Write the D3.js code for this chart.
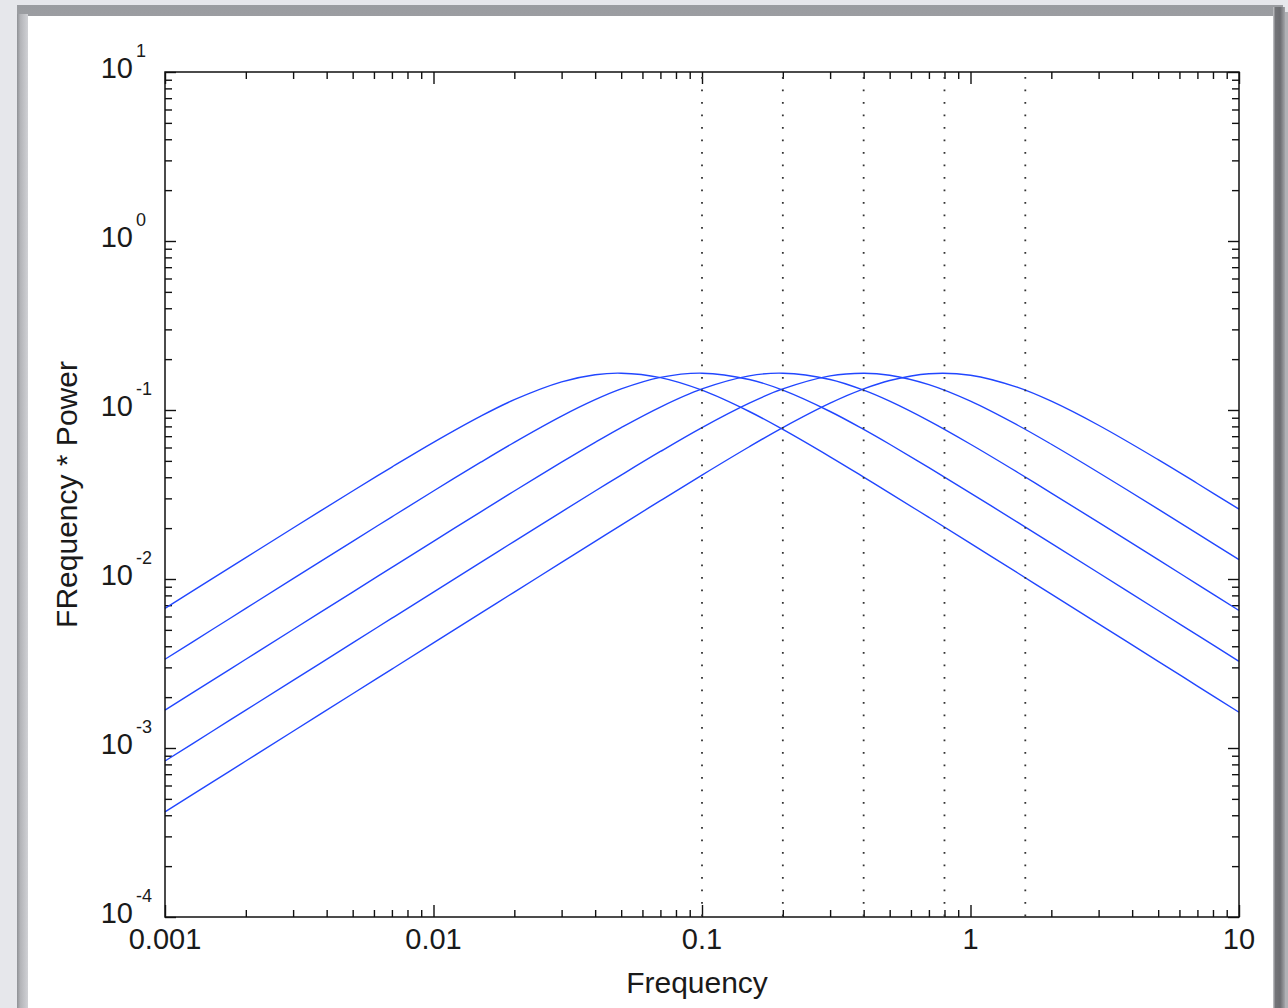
<!DOCTYPE html>
<html>
<head>
<meta charset="utf-8">
<script src="https://cdn.jsdelivr.net/npm/d3@7"></script>
<style>
  html, body { margin: 0; padding: 0; background: #e6e7eb; }
  svg { display: block; }
  text { font-family: "Liberation Sans", Arial, Helvetica, sans-serif; fill: #1a1a1a; }
</style>
</head>
<body>
<svg id="chart" width="1288" height="1008"></svg>
<script>
// ---- data ----
const frequencies = [0.001, 0.0015, 0.002, 0.003, 0.005, 0.007, 0.01, 0.015, 0.02, 0.03, 0.04, 0.05, 0.07,
  0.1, 0.15, 0.2, 0.3, 0.4, 0.5, 0.7, 1, 1.5, 2, 3, 5, 7, 10];
const band1 = [0.00670, 0.01004, 0.01338, 0.02003, 0.03316, 0.04597, 0.06435, 0.09198, 0.11506, 0.14668, 0.16160, 0.16514, 0.15550,
  0.13100, 0.09798, 0.07676, 0.05286, 0.04010, 0.03225, 0.02315, 0.01624, 0.01085, 0.008137, 0.005427, 0.003257, 0.002326, 0.001628];
const band2 = [0.003350, 0.005024, 0.006697, 0.01004, 0.01671, 0.02333, 0.03316, 0.04911, 0.06435, 0.09198, 0.11506, 0.13324, 0.15592,
  0.16514, 0.15162, 0.13100, 0.09798, 0.07676, 0.06270, 0.04562, 0.03225, 0.02162, 0.01624, 0.01085, 0.006511, 0.004652, 0.003257];
const band3 = [0.001675, 0.002512, 0.003350, 0.005024, 0.008370, 0.01171, 0.01671, 0.02498, 0.03316, 0.04911, 0.06435, 0.07869, 0.10413,
  0.13324, 0.15917, 0.16514, 0.15162, 0.13100, 0.11274, 0.08621, 0.06270, 0.04269, 0.03225, 0.02162, 0.01301, 0.009298, 0.006511];
const band4 = [0.0008375, 0.001256, 0.001675, 0.002512, 0.004187, 0.005861, 0.008370, 0.01254, 0.01671, 0.02498, 0.03316, 0.04121, 0.05683,
  0.07869, 0.10975, 0.13324, 0.15917, 0.16514, 0.16061, 0.14126, 0.11274, 0.08123, 0.06270, 0.04269, 0.02589, 0.01855, 0.01301];
const band5 = [0.0004188, 0.0006281, 0.0008375, 0.001256, 0.002094, 0.002931, 0.004187, 0.006279, 0.008370, 0.01254, 0.01671, 0.02085, 0.02908,
  0.04121, 0.06062, 0.07869, 0.10975, 0.13324, 0.14936, 0.16398, 0.16061, 0.13607, 0.11274, 0.08123, 0.05085, 0.03675, 0.02589];
const bandEdges = [0.1, 0.2, 0.4, 0.8, 1.6];
const xTickValues = [0.001, 0.01, 0.1, 1, 10];
const xTickLabels = ["0.001", "0.01", "0.1", "1", "10"];
const yTickValues = [1e-4, 1e-3, 1e-2, 1e-1, 1, 10];
const yTickExponents = ["-4", "-3", "-2", "-1", "0", "1"];
const xTitle = "Frequency";
const yTitle = "FRequency * Power";

const seriesList = [band1, band2, band3, band4, band5];

// ---- drawing ----
const svg = d3.select("#chart");

// window frame
const defs = svg.append("defs");
const gRight = defs.append("linearGradient").attr("id", "rightEdge").attr("x1", 0).attr("x2", 1).attr("y1", 0).attr("y2", 0);
gRight.append("stop").attr("offset", 0).attr("stop-color", "#c9cacd");
gRight.append("stop").attr("offset", 0.2).attr("stop-color", "#737478");
gRight.append("stop").attr("offset", 0.6).attr("stop-color", "#6c6d71");
gRight.append("stop").attr("offset", 1).attr("stop-color", "#a3a4a8");
const gTop = defs.append("linearGradient").attr("id", "topEdge").attr("x1", 0).attr("x2", 0).attr("y1", 0).attr("y2", 1);
gTop.append("stop").attr("offset", 0).attr("stop-color", "#9a9ca0");
gTop.append("stop").attr("offset", 0.25).attr("stop-color", "#b9babe");
gTop.append("stop").attr("offset", 1).attr("stop-color", "#d3d4d8");
const gLeft = defs.append("linearGradient").attr("id", "leftEdge").attr("x1", 0).attr("x2", 1).attr("y1", 0).attr("y2", 0);
gLeft.append("stop").attr("offset", 0).attr("stop-color", "#8f9195");
gLeft.append("stop").attr("offset", 0.3).attr("stop-color", "#b3b4b8");
gLeft.append("stop").attr("offset", 1).attr("stop-color", "#d0d1d5");

svg.append("rect").attr("x", 0).attr("y", 0).attr("width", 1288).attr("height", 1008).attr("fill", "#e6e7eb");
svg.append("rect").attr("x", 1283).attr("y", 12).attr("width", 5).attr("height", 996).attr("fill", "#b0b1b5");
svg.append("rect").attr("x", 17).attr("y", 5).attr("width", 1266).attr("height", 1003).attr("fill", "url(#topEdge)");
svg.append("rect").attr("x", 17).attr("y", 14).attr("width", 11).attr("height", 994).attr("fill", "url(#leftEdge)");
svg.append("rect").attr("x", 1273).attr("y", 7).attr("width", 12).attr("height", 1001).attr("fill", "url(#rightEdge)");
svg.append("rect").attr("x", 28).attr("y", 16).attr("width", 1245).attr("height", 992).attr("fill", "#ffffff");

// scales
const plotL = 165, plotR = 1239, plotT = 72, plotB = 917;
const x = d3.scaleLog().domain([0.001, 10]).range([plotL, plotR]);
const y = d3.scaleLog().domain([1e-4, 10]).range([plotB, plotT]);

const minorX = x.ticks().filter(t => !xTickValues.some(m => Math.abs(Math.log10(m) - Math.log10(t)) < 1e-6));
const minorY = y.ticks().filter(t => !yTickValues.some(m => Math.abs(Math.log10(m) - Math.log10(t)) < 1e-6));

function axisGroup(axis, tx, ty) {
  const g = svg.append("g").attr("transform", `translate(${tx},${ty})`).call(axis);
  g.select(".domain").remove();
  g.selectAll("line").attr("stroke", "#111").attr("stroke-width", 1.4);
  g.selectAll("text").remove();
  return g;
}
// inward ticks on all four sides
axisGroup(d3.axisBottom(x).tickValues(xTickValues).tickSize(-12).tickFormat(""), 0, plotB);
axisGroup(d3.axisBottom(x).tickValues(minorX).tickSize(-7).tickFormat(""), 0, plotB);
axisGroup(d3.axisTop(x).tickValues(xTickValues).tickSize(-12).tickFormat(""), 0, plotT);
axisGroup(d3.axisTop(x).tickValues(minorX).tickSize(-7).tickFormat(""), 0, plotT);
axisGroup(d3.axisLeft(y).tickValues(yTickValues).tickSize(-11).tickFormat(""), plotL, 0);
axisGroup(d3.axisLeft(y).tickValues(minorY).tickSize(-7).tickFormat(""), plotL, 0);
axisGroup(d3.axisRight(y).tickValues(yTickValues).tickSize(-11).tickFormat(""), plotR, 0);
axisGroup(d3.axisRight(y).tickValues(minorY).tickSize(-7).tickFormat(""), plotR, 0);

// curves
const line = d3.line()
  .x((d, i) => x(frequencies[i]))
  .y(d => y(d))
  .curve(d3.curveCatmullRom.alpha(0.5));
svg.append("g").selectAll("path").data(seriesList).join("path")
  .attr("d", d => line(d))
  .attr("fill", "none")
  .attr("stroke", "#2146ff")
  .attr("stroke-width", 1.4);

// dotted band edges
svg.append("g").selectAll("line").data(bandEdges).join("line")
  .attr("x1", d => x(d)).attr("x2", d => x(d))
  .attr("y1", plotT).attr("y2", plotB)
  .attr("stroke", "#333")
  .attr("stroke-width", 1.8)
  .attr("stroke-dasharray", "1.8 10.7")
  .attr("stroke-dashoffset", -5);

// box
svg.append("rect").attr("x", plotL).attr("y", plotT).attr("width", plotR - plotL).attr("height", plotB - plotT)
  .attr("fill", "none").attr("stroke", "#111").attr("stroke-width", 1.5);

// x tick labels
svg.append("g").selectAll("text").data(xTickValues).join("text")
  .attr("x", d => x(d)).attr("y", 949)
  .attr("text-anchor", "middle")
  .attr("font-size", 29)
  .text((d, i) => xTickLabels[i]);

// y tick labels (10 with exponent)
const yl = svg.append("g").selectAll("g").data(yTickValues).join("g");
yl.append("text")
  .attr("x", 133).attr("y", d => y(d) + 6)
  .attr("text-anchor", "end")
  .attr("font-size", 29)
  .text("10");
yl.append("text")
  .attr("x", 136).attr("y", d => y(d) - 15)
  .attr("text-anchor", "start")
  .attr("font-size", 18)
  .text((d, i) => yTickExponents[i]);

// titles
svg.append("text").attr("x", 697).attr("y", 993).attr("text-anchor", "middle").attr("font-size", 30).text(xTitle);
svg.append("text").attr("transform", `translate(77,${(plotT + plotB) / 2}) rotate(-90)`)
  .attr("text-anchor", "middle").attr("font-size", 30).text(yTitle);
</script>
</body>
</html>
